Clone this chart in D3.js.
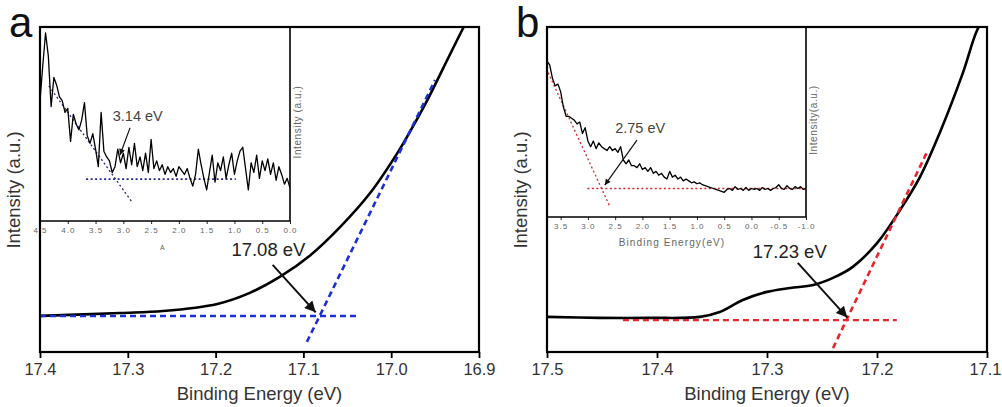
<!DOCTYPE html>
<html>
<head>
<meta charset="utf-8">
<script src="https://cdn.jsdelivr.net/npm/d3@7"></script>
<style>
  html, body { margin: 0; padding: 0; background: #fff; }
  svg { display: block; font-family: "Liberation Sans", Arial, sans-serif; }
</style>
</head>
<body>
<svg id="chart" width="1002" height="407"></svg>
<script>
// ---------- Panel a : secondary-electron cutoff ----------
const cutoffAEnergy    = [17.40, 17.309, 17.26, 17.198, 17.161, 17.127, 17.092, 17.058, 17.024, 16.993, 16.979, 16.959, 16.941, 16.918, 16.90];
const cutoffAIntensity = [11.1, 12.0, 12.6, 14.8, 18.2, 23.1, 29.8, 38.5, 48.9, 61.2, 67.6, 77.4, 87.2, 99.7, 109];
const cutoffAValue = 17.08;
const cutoffABase = 11.1;
const cutoffATangentTop = [16.95, 83.7];
const cutoffATangentLow = [17.096, 3.1];
const cutoffABaseEnd = 17.036;
const cutoffATicks = [17.4, 17.3, 17.2, 17.1, 17.0, 16.9];

// ---------- Panel a inset : valence band edge ----------
const valenceAEnergy = [4.50, 4.45, 4.40, 4.35, 4.30, 4.25, 4.20, 4.15, 4.10, 4.05, 4.00, 3.95, 3.90, 3.85, 3.80, 3.75, 3.70, 3.65, 3.60, 3.55,
  3.50, 3.45, 3.40, 3.35, 3.30, 3.25, 3.20, 3.15, 3.10, 3.05, 3.00, 2.95, 2.90, 2.85, 2.80, 2.75, 2.70, 2.65, 2.60, 2.55,
  2.50, 2.45, 2.40, 2.35, 2.30, 2.25, 2.20, 2.15, 2.10, 2.05, 2.00, 1.95, 1.90, 1.85, 1.80, 1.75, 1.70, 1.65, 1.60, 1.55,
  1.50, 1.45, 1.40, 1.35, 1.30, 1.25, 1.20, 1.15, 1.10, 1.05, 1.00, 0.95, 0.90, 0.85, 0.80, 0.75, 0.70, 0.65, 0.60, 0.55,
  0.50, 0.45, 0.40, 0.35, 0.30, 0.25, 0.20, 0.15, 0.10, 0.05, 0.00];
const valenceAIntensity = [62, 80, 97, 85, 59, 74, 70, 64, 62, 56, 58, 41, 55, 50, 47, 52, 61, 44, 40, 45,
  37, 28, 56, 36, 33, 31, 25, 28, 37, 30, 35, 27, 38, 29, 40, 28, 33, 26, 35, 25,
  42, 27, 31, 26, 29, 24, 28, 25, 27, 23, 28, 26, 24, 27, 22, 18, 24, 37, 29, 22,
  16, 25, 34, 20, 30, 26, 33, 22, 29, 35, 24, 31, 36, 38, 27, 16, 30, 25, 34, 22,
  31, 26, 32, 24, 30, 21, 28, 24, 19, 22, 17];
const valenceAValue = 3.14;
const valenceABase = 21.6;
const valenceABaseRange = [3.67, 0.975];
const valenceATangent = [[4.34, 69.6], [2.845, 9.8]];
const valenceATicks = [4.5, 4.0, 3.5, 3.0, 2.5, 2.0, 1.5, 1.0, 0.5, 0.0];

// ---------- Panel b : secondary-electron cutoff ----------
const cutoffBEnergy    = [17.50, 17.452, 17.406, 17.361, 17.343, 17.322, 17.30, 17.279, 17.258, 17.24, 17.222, 17.20, 17.179, 17.161, 17.143, 17.122, 17.109, 17.10];
const cutoffBIntensity = [10.8, 10.5, 10.5, 10.8, 12.3, 16.0, 18.5, 19.7, 20.6, 22.8, 26.2, 33.5, 43.7, 53.8, 67.4, 85.8, 99, 104];
const cutoffBValue = 17.23;
const cutoffBBase = 9.8;
const cutoffBTangentTop = [17.155, 61.2];
const cutoffBTangentLow = [17.24, 1.2];
const cutoffBBaseRange = [17.431, 17.182];
const cutoffBTicks = [17.5, 17.4, 17.3, 17.2, 17.1];

// ---------- Panel b inset : valence band edge ----------
const valenceBEnergy = [3.75, 3.70, 3.65, 3.60, 3.55, 3.50, 3.45, 3.40, 3.35, 3.30, 3.25, 3.20, 3.15, 3.10, 3.05, 3.00,
  2.95, 2.90, 2.85, 2.80, 2.75, 2.70, 2.65, 2.60, 2.55, 2.50, 2.45, 2.40, 2.35, 2.30, 2.25, 2.20, 2.15, 2.10, 2.05, 2.00,
  1.95, 1.90, 1.85, 1.80, 1.75, 1.70, 1.65, 1.60, 1.55, 1.50, 1.45, 1.40, 1.35, 1.30, 1.25, 1.20, 1.15, 1.10, 1.05, 1.00,
  0.95, 0.90, 0.85, 0.80, 0.75, 0.70, 0.65, 0.60, 0.55, 0.50, 0.45, 0.40, 0.35, 0.30, 0.25, 0.20, 0.15, 0.10, 0.05, 0.00,
  -0.05, -0.10, -0.15, -0.20, -0.25, -0.30, -0.35, -0.40, -0.45, -0.50, -0.55, -0.60, -0.65, -0.70, -0.75, -0.80, -0.85, -0.90, -0.95, -1.00];
const valenceBIntensity = [82, 80, 73, 69, 70, 66, 58, 53, 53, 52, 51, 49, 50, 44, 47, 40,
  37, 40, 36, 39, 37, 36, 35, 37, 35, 36, 34, 37, 30, 28, 30, 27, 27, 26, 28, 25,
  26, 24, 26, 23, 24, 22, 23, 21, 20, 24, 21, 22, 20, 21, 19, 20, 19, 18, 18.5, 17.5,
  18, 17, 16.5, 16, 15.5, 15, 14.5, 14, 13.5, 13, 14.5, 15, 14, 16, 14.5, 15, 14, 15.5, 14, 15,
  14.5, 15, 14, 15.5, 14.5, 15, 14, 15, 15.5, 17, 15, 14.5, 16.5, 15, 14.5, 16, 15, 16, 14.5, 15];
const valenceBValue = 2.75;
const valenceBBase = 15;
const valenceBBaseRange = [3.01, -0.99];
const valenceBTangent = [[3.73, 76], [2.594, 5.3]];
const valenceBTicks = [3.5, 3.0, 2.5, 2.0, 1.5, 1.0, 0.5, 0.0, -0.5, -1.0];

// ---------- drawing ----------
const svg = d3.select("#chart");
const fmt = d => d.toFixed(1);
const defs = svg.append("defs");

function arrowMarker(id, w, h) {
  defs.append("marker")
    .attr("id", id)
    .attr("viewBox", "0 0 10 10")
    .attr("refX", 10).attr("refY", 5)
    .attr("markerUnits", "userSpaceOnUse")
    .attr("markerWidth", w).attr("markerHeight", h)
    .attr("orient", "auto")
    .append("path").attr("d", "M0,0 L10,5 L0,10 Z").attr("fill", "#111");
}
arrowMarker("arrowBig", 13, 11);
arrowMarker("arrowSmall", 8, 6);

function clip(id, x0, x1, y0, y1) {
  defs.append("clipPath").attr("id", id)
    .append("rect").attr("x", x0).attr("y", y0).attr("width", x1 - x0).attr("height", y1 - y0);
}

function drawPanel(opt) {
  const { x, y, ix, iy, letter } = opt;
  const [x0, x1] = x.range();
  const [y1, y0] = y.range();
  const [ix0, ix1] = ix.range();
  const [iy1, iy0] = iy.range();
  const g = svg.append("g");

  clip(letter + "-main", x0, x1, y0, y1);
  clip(letter + "-inset", ix0, ix1, iy0, iy1);

  // main curve
  const mainLine = d3.line().x(d => x(d[0])).y(d => y(d[1])).curve(d3.curveCatmullRom.alpha(0.5));
  const mg = g.append("g").attr("clip-path", `url(#${letter}-main)`);
  mg.append("path")
    .datum(d3.zip(opt.energy, opt.intensity))
    .attr("d", mainLine)
    .attr("fill", "none").attr("stroke", "#000").attr("stroke-width", 2.6);

  // baseline and leading-edge fits
  mg.append("line")
    .attr("x1", x(opt.baseRange[0])).attr("x2", x(opt.baseRange[1]))
    .attr("y1", y(opt.base)).attr("y2", y(opt.base))
    .attr("stroke", opt.fitColor).attr("stroke-width", 2.4).attr("stroke-dasharray", "6,4");
  mg.append("line")
    .attr("x1", x(opt.tanLow[0])).attr("y1", y(opt.tanLow[1]))
    .attr("x2", x(opt.tanTop[0])).attr("y2", y(opt.tanTop[1]))
    .attr("stroke", opt.fitColor).attr("stroke-width", 2.6).attr("stroke-dasharray", "6,4");

  // annotation
  g.append("line")
    .attr("x1", x(opt.arrowFrom[0])).attr("y1", y(opt.arrowFrom[1]))
    .attr("x2", x(opt.arrowTo[0])).attr("y2", y(opt.arrowTo[1]))
    .attr("stroke", "#111").attr("stroke-width", 2).attr("marker-end", "url(#arrowBig)");
  g.append("text")
    .attr("x", x(opt.labelAt[0])).attr("y", y(opt.labelAt[1]))
    .attr("font-size", 18.5).attr("fill", "#222")
    .text(opt.value.toFixed(2) + " eV");

  // inset
  g.append("rect").attr("x", ix0).attr("y", iy0).attr("width", ix1 - ix0).attr("height", iy1 - iy0).attr("fill", "#fff");
  const ig = g.append("g").attr("clip-path", `url(#${letter}-inset)`);
  ig.append("line")
    .attr("x1", ix(opt.iBaseRange[0])).attr("x2", ix(opt.iBaseRange[1]))
    .attr("y1", iy(opt.iBase)).attr("y2", iy(opt.iBase))
    .attr("stroke", opt.iFitColor).attr("stroke-width", 1.6).attr("stroke-dasharray", "2,2.5");
  ig.append("line")
    .attr("x1", ix(opt.iTangent[0][0])).attr("y1", iy(opt.iTangent[0][1]))
    .attr("x2", ix(opt.iTangent[1][0])).attr("y2", iy(opt.iTangent[1][1]))
    .attr("stroke", opt.iFitColor).attr("stroke-width", 1.3).attr("stroke-dasharray", "2,2.5");
  ig.append("path")
    .datum(d3.zip(opt.iEnergy, opt.iIntensity))
    .attr("d", d3.line().x(d => ix(d[0])).y(d => iy(d[1])))
    .attr("fill", "none").attr("stroke", "#000").attr("stroke-width", 1.3).attr("stroke-linejoin", "round");

  g.append("line")
    .attr("x1", ix(opt.iArrowFrom[0])).attr("y1", iy(opt.iArrowFrom[1]))
    .attr("x2", ix(opt.iArrowTo[0])).attr("y2", iy(opt.iArrowTo[1]))
    .attr("stroke", "#111").attr("stroke-width", 1.2).attr("marker-end", "url(#arrowSmall)");
  g.append("text")
    .attr("x", ix(opt.iLabelAt[0])).attr("y", iy(opt.iLabelAt[1]))
    .attr("font-size", 14.5).attr("fill", "#444")
    .text(opt.iValue.toFixed(2) + " eV");

  // inset axes
  const iAxis = g.append("g").attr("transform", `translate(0,${iy1})`);
  iAxis.call(d3.axisBottom(ix).tickValues(ix.ticks(20)).tickSize(2.5).tickFormat(""));
  iAxis.call(d3.axisBottom(ix).tickValues(opt.iTicks).tickSize(3).tickPadding(3).tickFormat(fmt));
  iAxis.selectAll(".domain").remove();
  iAxis.selectAll("line").attr("stroke", "#222");
  iAxis.selectAll("text").attr("font-size", 8).attr("fill", "#666").attr("letter-spacing", 1)
    .attr("font-family", "'Liberation Sans', Arial, sans-serif");
  g.append("line").attr("x1", ix0).attr("x2", ix1).attr("y1", iy1).attr("y2", iy1).attr("stroke", "#000").attr("stroke-width", 1.6);
  g.append("line").attr("x1", ix1).attr("x2", ix1).attr("y1", iy0).attr("y2", iy1).attr("stroke", "#000").attr("stroke-width", 1.6);
  if (opt.iXTitle) {
    g.append("text").attr("x", opt.iXTitle[1]).attr("y", opt.iXTitle[2])
      .attr("text-anchor", "middle").attr("font-size", opt.iXTitle[3]).attr("fill", "#666").attr("letter-spacing", 1.1)
      .text(opt.iXTitle[0]);
  }
  g.append("text")
    .attr("transform", `translate(${ix1 + 11},${(iy0 + iy1) / 2 + opt.iYShift}) rotate(-90)`)
    .attr("text-anchor", "middle").attr("font-size", 10).attr("fill", "#666").attr("letter-spacing", 0.6)
    .text(opt.iYTitle);

  // main axes
  const ax = g.append("g").attr("transform", `translate(0,${y1})`);
  ax.call(d3.axisBottom(x).tickValues(x.ticks(10)).tickSize(4).tickFormat(""));
  ax.call(d3.axisBottom(x).tickValues(opt.ticks).tickSize(6).tickPadding(5).tickFormat(fmt));
  ax.selectAll(".domain").remove();
  ax.selectAll("line").attr("stroke", "#000").attr("stroke-width", 1.8);
  ax.selectAll("text").attr("font-size", 16.5).attr("fill", "#333")
    .attr("font-family", "'Liberation Sans', Arial, sans-serif");
  // keep the right-most tick label inside the canvas
  ax.selectAll(".tick text").filter(d => x(d) > 980).attr("text-anchor", "end").attr("dx", 14);
  g.append("rect").attr("x", x0).attr("y", y0).attr("width", x1 - x0).attr("height", y1 - y0)
    .attr("fill", "none").attr("stroke", "#000").attr("stroke-width", 2.2);

  g.append("text").attr("x", (x0 + x1) / 2).attr("y", 400)
    .attr("text-anchor", "middle").attr("font-size", 18.5).attr("fill", "#333")
    .text("Binding Energy (eV)");
  g.append("text")
    .attr("transform", `translate(${x0 - 20},190) rotate(-90)`)
    .attr("text-anchor", "middle").attr("font-size", 18.5).attr("fill", "#333")
    .text("Intensity (a.u.)");
  g.append("text").attr("x", x0 - 31).attr("y", 37)
    .attr("font-size", 42).attr("fill", "#111").text(letter);
}

const xA = d3.scaleLinear().domain([17.4, 16.9]).range([40, 479]);
const yA = d3.scaleLinear().domain([0, 100]).range([352, 27]);
const ixA = d3.scaleLinear().domain([4.5, 0]).range([40, 290]);
const iyA = d3.scaleLinear().domain([0, 100]).range([221, 27]);

drawPanel({
  letter: "a", x: xA, y: yA, ix: ixA, iy: iyA,
  energy: cutoffAEnergy, intensity: cutoffAIntensity,
  value: cutoffAValue, base: cutoffABase, baseRange: [17.4, cutoffABaseEnd],
  tanTop: cutoffATangentTop, tanLow: cutoffATangentLow, fitColor: "#1a2fd6",
  arrowFrom: [17.135, 26.8], arrowTo: [17.086, 12.2], labelAt: [17.182, 29.5],
  ticks: cutoffATicks,
  iEnergy: valenceAEnergy, iIntensity: valenceAIntensity, iValue: valenceAValue,
  iBase: valenceABase, iBaseRange: valenceABaseRange, iTangent: valenceATangent, iFitColor: "#23238f",
  iArrowFrom: [2.88, 48], iArrowTo: [3.06, 34], iLabelAt: [3.19, 51.5],
  iTicks: valenceATicks, iXTitle: ["A", 163, 250, 7], iYTitle: "Intensity (a.u.)", iYShift: -2
});

const xB = d3.scaleLinear().domain([17.5, 17.1]).range([547, 987]);
const yB = d3.scaleLinear().domain([0, 100]).range([352, 27]);
const ixB = d3.scaleLinear().domain([3.75, -1.0]).range([547, 806]);
const iyB = d3.scaleLinear().domain([0, 100]).range([217, 27]);

drawPanel({
  letter: "b", x: xB, y: yB, ix: ixB, iy: iyB,
  energy: cutoffBEnergy, intensity: cutoffBIntensity,
  value: cutoffBValue, base: cutoffBBase, baseRange: cutoffBBaseRange,
  tanTop: cutoffBTangentTop, tanLow: cutoffBTangentLow, fitColor: "#e8242c",
  arrowFrom: [17.272, 27.4], arrowTo: [17.227, 10.6], labelAt: [17.313, 28.8],
  ticks: cutoffBTicks,
  iEnergy: valenceBEnergy, iIntensity: valenceBIntensity, iValue: valenceBValue,
  iBase: valenceBBase, iBaseRange: valenceBBaseRange, iTangent: valenceBTangent, iFitColor: "#d8242c",
  iArrowFrom: [2.10, 40.5], iArrowTo: [2.69, 16.8], iLabelAt: [2.50, 44],
  iTicks: valenceBTicks, iXTitle: ["Binding Energy(eV)", 672, 246, 10], iYTitle: "Intensity(a.u.)", iYShift: -2
});
</script>
</body>
</html>
